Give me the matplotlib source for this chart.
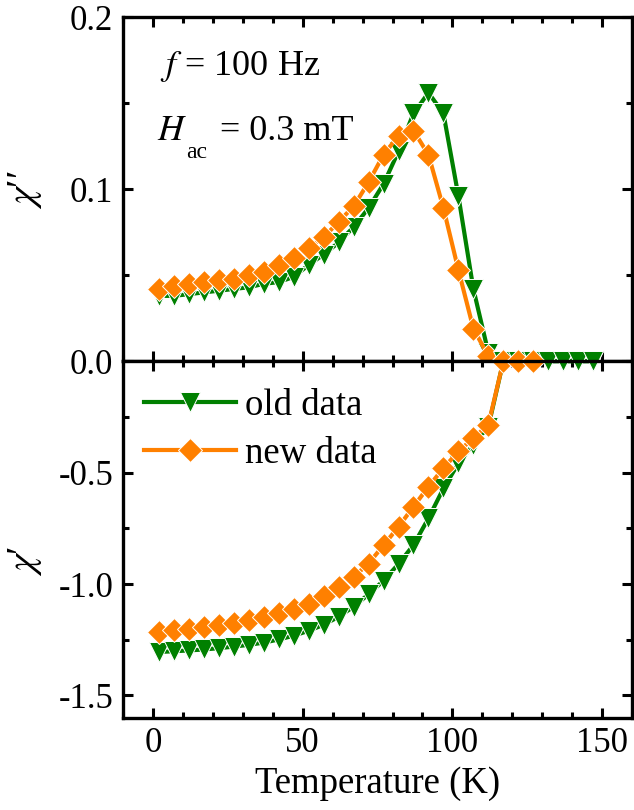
import numpy as np
import matplotlib
matplotlib.use('Agg')
import matplotlib.pyplot as plt
from matplotlib.ticker import MultipleLocator, FormatStrFormatter

plt.rcParams['font.family'] = ['Liberation Serif', 'DejaVu Serif']
plt.rcParams['mathtext.fontset'] = 'stix'
plt.rcParams['axes.unicode_minus'] = False

# temperatura (K)
temp_old = [2, 7, 12, 17, 22, 27, 32, 37, 42, 47, 52, 57, 62, 67, 72, 77, 82, 87, 92, 97,
            102, 107, 112, 117, 122, 127, 132, 137, 142, 147]
temp_new = [2, 7, 12, 17, 22, 27, 32, 37, 42, 47, 52, 57, 62, 67, 72, 77, 82, 87, 92, 97,
            102, 107, 112, 117, 122, 127]

# chi'' (parte imaginaria)
chi2_old = [0.038, 0.038, 0.039, 0.040, 0.041, 0.042, 0.043, 0.045, 0.046, 0.049,
            0.056, 0.062, 0.069, 0.078, 0.089, 0.103, 0.122, 0.144, 0.156, 0.144,
            0.096, 0.042, 0.005, 0.0, 0.0, 0.0, 0.0, 0.0, 0.0, 0.0]
chi2_new = [0.042, 0.044, 0.045, 0.046, 0.047, 0.048, 0.050, 0.052, 0.056, 0.060,
            0.066, 0.072, 0.081, 0.090, 0.104, 0.120, 0.131, 0.134, 0.120, 0.089,
            0.053, 0.019, 0.003, 0.0, 0.0, 0.0]

# chi' (parte real)
chi1_old = [-1.305, -1.302, -1.298, -1.294, -1.288, -1.281, -1.273, -1.263, -1.249, -1.232,
            -1.210, -1.183, -1.147, -1.102, -1.046, -0.985, -0.910, -0.825, -0.705, -0.571,
            -0.458, -0.375, -0.293, 0.0, 0.0, 0.0, 0.0, 0.0, 0.0, 0.0]
chi1_new = [-1.214, -1.207, -1.200, -1.195, -1.185, -1.175, -1.163, -1.148, -1.130, -1.110,
            -1.088, -1.056, -1.014, -0.968, -0.908, -0.826, -0.743, -0.653, -0.563, -0.480,
            -0.405, -0.345, -0.285, 0.0, 0.0, 0.0]

verde = '#008000'
naranja = '#ff8000'

fig = plt.figure(figsize=(6.34, 8.1), dpi=100)
ax1 = fig.add_axes([0.194, 0.554, 0.803, 0.425])
ax2 = fig.add_axes([0.194, 0.114, 0.803, 0.440], sharex=ax1)

estilo_old = dict(color=verde, marker='v', ms=14, lw=3, mec='white', mew=0.7, clip_on=False)
estilo_new = dict(color=naranja, marker='D', ms=12.5, lw=3, mec='white', mew=0.7, clip_on=False)

ax1.plot(temp_old, chi2_old, **estilo_old)
ax1.plot(temp_new, chi2_new, **estilo_new)
ax2.plot(temp_old, chi1_old, label='old data', **estilo_old)
ax2.plot(temp_new, chi1_new, label='new data', **estilo_new)

ax1.set_xlim(-10, 160)
ax1.set_ylim(0, 0.2)
ax2.set_ylim(-1.6, 0)

ax1.xaxis.set_major_locator(MultipleLocator(50))
ax1.xaxis.set_minor_locator(MultipleLocator(10))
ax1.yaxis.set_major_locator(MultipleLocator(0.1))
ax1.yaxis.set_minor_locator(MultipleLocator(0.05))
ax2.yaxis.set_major_locator(MultipleLocator(0.5))
ax2.yaxis.set_minor_locator(MultipleLocator(0.25))
ax1.yaxis.set_major_formatter(FormatStrFormatter('%.1f'))
ax2.yaxis.set_major_formatter(FormatStrFormatter('%.1f'))

for ax in (ax1, ax2):
    for s in ax.spines.values():
        s.set_linewidth(2.4)
    ax.tick_params(which='both', direction='in', top=True, right=True, width=2.2, labelsize=25, pad=7)
    ax.tick_params(which='major', length=7)
    ax.tick_params(which='minor', length=4)
plt.setp(ax1.get_xticklabels(), visible=False)
ax2.set_yticks([-0.5, -1.0, -1.5])

ax2.set_xlabel('Temperature (K)', fontsize=26.5, labelpad=4)
ax1.set_ylabel(r'$\chi$′′', fontsize=28)
ax2.set_ylabel(r'$\chi$′', fontsize=28)
ax1.yaxis.set_label_coords(-0.155, 0.5)
ax2.yaxis.set_label_coords(-0.155, 0.44)

ax1.text(0.073, 0.831, r'$f$ = 100 Hz', transform=ax1.transAxes, fontsize=26, va='baseline')
ax1.text(0.067, 0.642, r'$H$', transform=ax1.transAxes, fontsize=26, va='baseline')
ax1.text(0.124, 0.59, 'ac', transform=ax1.transAxes, fontsize=17, va='baseline')
ax1.text(0.19, 0.642, '= 0.3 mT', transform=ax1.transAxes, fontsize=26, va='baseline')

ax2.legend(loc='upper left', bbox_to_anchor=(-0.01, 0.995), frameon=False, fontsize=26.5,
           handlelength=2.5, handletextpad=0.25, labelspacing=0.35, borderaxespad=0.3)

fig.savefig('out.png', dpi=100)
